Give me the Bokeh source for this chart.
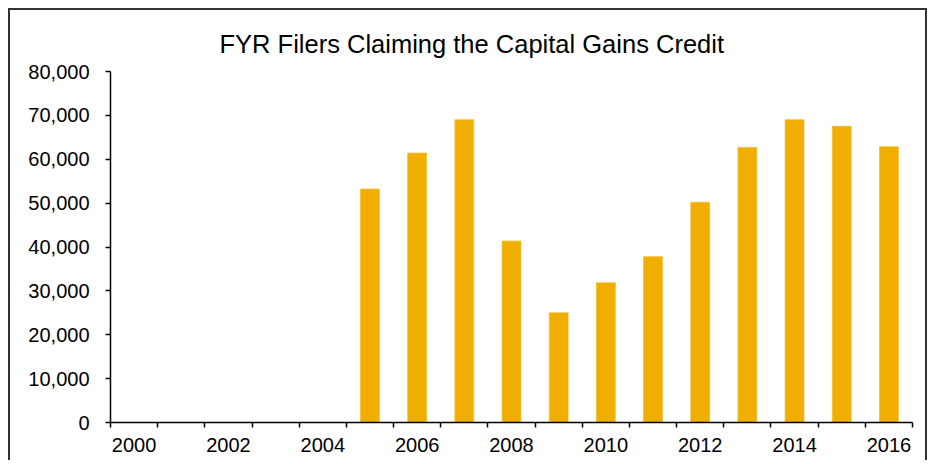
from bokeh.plotting import figure
from bokeh.models import Range1d, FixedTicker, NumeralTickFormatter, ColumnDataSource
from bokeh.embed import file_html
from bokeh.resources import INLINE

years = [2005, 2006, 2007, 2008, 2009, 2010, 2011, 2012, 2013, 2014, 2015, 2016]
filers = [53200, 61400, 69000, 41350, 25000, 31850, 37800, 50200, 62700, 69000, 67500, 62850]
label_years = [2000, 2002, 2004, 2006, 2008, 2010, 2012, 2014, 2016]
y_ticks = [0, 10000, 20000, 30000, 40000, 50000, 60000, 70000, 80000]

FONT = "Liberation Sans"
BAR = "#F0AE00"
EDGE = "#F3BE33"

src = ColumnDataSource(dict(x=years, top=filers))

p = figure(width=919, height=452, output_backend="svg", toolbar_location=None,
           x_range=Range1d(1999.5, 2016.5), y_range=Range1d(0, 80000),
           title="FYR Filers Claiming the Capital Gains Credit",
           min_border_left=100, min_border_right=17, min_border_top=61, min_border_bottom=40)

p.vbar(x="x", top="top", width=0.4, source=src, fill_color=BAR, line_color=EDGE, line_width=0.8)

p.title.text_font = FONT
p.title.text_font_size = "25.5px"
p.title.text_font_style = "normal"
p.title.text_color = "#000000"
p.title.align = "left"
p.title.offset = 109
p.title.standoff = 27

p.xgrid.visible = False
p.ygrid.visible = False
p.outline_line_color = None
p.background_fill_color = "white"
p.border_fill_color = "white"

xa = p.xaxis[0]
xa.ticker = FixedTicker(ticks=label_years, minor_ticks=[y - 0.5 for y in range(2000, 2018)])
xa.major_tick_line_color = None
xa.major_tick_out = 0
xa.minor_tick_out = 5
xa.minor_tick_in = 0
xa.minor_tick_line_color = "black"
xa.minor_tick_line_width = 1.5
xa.axis_line_color = "black"
xa.axis_line_width = 1.5
xa.major_label_text_font = FONT
xa.major_label_text_font_size = "20px"
xa.major_label_text_color = "black"
xa.major_label_standoff = 10

ya = p.yaxis[0]
ya.ticker = FixedTicker(ticks=y_ticks)
ya.formatter = NumeralTickFormatter(format="0,0")
ya.major_tick_out = 5
ya.major_tick_in = 0
ya.major_tick_line_color = "black"
ya.major_tick_line_width = 1.5
ya.minor_tick_line_color = None
ya.axis_line_color = "black"
ya.axis_line_width = 1.5
ya.major_label_text_font = FONT
ya.major_label_text_font_size = "20px"
ya.major_label_text_color = "black"
ya.major_label_standoff = 16

p.styles = {"border-top": "2px solid #333333", "border-left": "2px solid #333333",
            "border-right": "2px solid #333333", "margin-left": "8px", "margin-top": "8px"}

open("out.html", "w").write(file_html(p, INLINE))
